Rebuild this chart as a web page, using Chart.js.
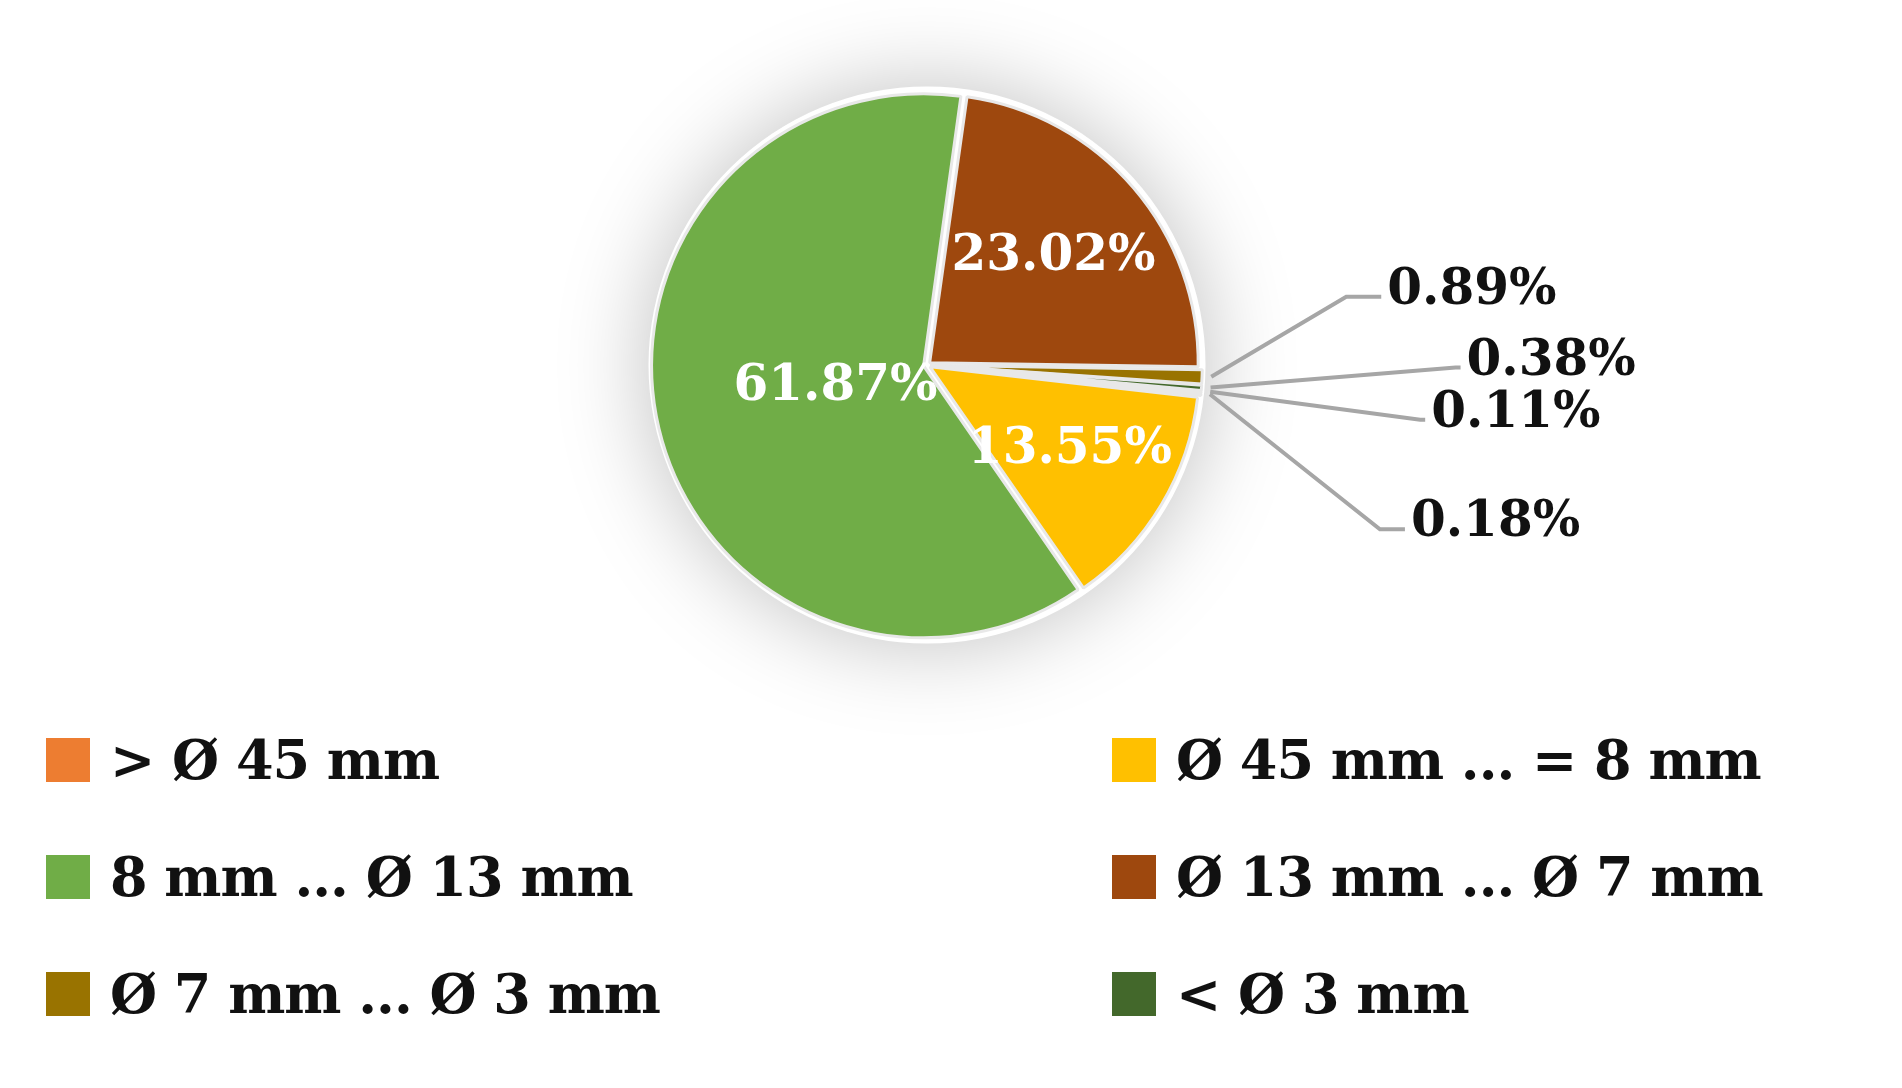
<!DOCTYPE html>
<html><head><meta charset="utf-8">
<script src="https://cdn.jsdelivr.net/npm/chart.js@4"></script>
<style>
body{margin:0;background:#fff;width:1902px;height:1088px;overflow:hidden;position:relative;font-family:"DejaVu Serif",serif}
#c{position:absolute;left:0;top:0}
.lg{position:absolute;display:flex;align-items:center;font-weight:bold;font-size:54px;color:#111;white-space:nowrap;letter-spacing:-1px}
.lg span{display:inline-block;width:44px;height:44px;margin-right:20px}
</style></head><body>
<canvas id="c" width="1902" height="1088"></canvas>
<div id="legend"></div>
<script>
const sliceLabels = ['Ø 13 mm ... Ø 7 mm','Ø 7 mm ... Ø 3 mm','< Ø 3 mm','> Ø 45 mm','> Ø 45 mm (b)','Ø 45 mm ... = 8 mm','8 mm ... Ø 13 mm'];
const sliceValues = [23.02, 0.89, 0.38, 0.11, 0.18, 13.55, 61.87];
const sliceColors = ['#9e480e','#997300','#43682b','#ed7d31','#f4b183','#ffc000','#70ad47'];
const legendLabels = ['> Ø 45 mm','Ø 45 mm ... = 8 mm','8 mm ... Ø 13 mm','Ø 13 mm ... Ø 7 mm','Ø 7 mm ... Ø 3 mm','< Ø 3 mm'];
const legendColors = ['#ed7d31','#ffc000','#70ad47','#9e480e','#997300','#43682b'];
// leader elbows relative to slice edge
const outsideLeaders = {1:[[135,-80],[170,-80]],2:[[245,-20],[250,-20]],3:[[210,28],[215,28]],4:[[170,135],[195,135]]};

const legendEl = document.getElementById('legend');
legendLabels.forEach((l,i)=>{
  const d=document.createElement('div');d.className='lg';
  d.style.left=(i%2?1112:46)+'px';d.style.top=(728+Math.floor(i/2)*117)+'px';
  d.innerHTML=`<span style="background:${legendColors[i]}"></span>`;
  d.appendChild(document.createTextNode(l));
  legendEl.appendChild(d);
});

const glow = {id:'glow',beforeDatasetsDraw(chart){
  const a=chart.getDatasetMeta(0).data[0];const ctx=chart.ctx;
  ctx.save();ctx.shadowColor='rgba(0,0,0,0.25)';ctx.shadowBlur=90;
  ctx.fillStyle='#fff';ctx.beginPath();ctx.arc(a.x,a.y,a.outerRadius+10,0,Math.PI*2);ctx.fill();ctx.restore();
}};
const labels = {id:'labels',afterDatasetsDraw(chart){
  const ctx=chart.ctx;const meta=chart.getDatasetMeta(0);
  ctx.save();ctx.font='bold 50px "DejaVu Serif", serif';ctx.textBaseline='middle';
  meta.data.forEach((arc,i)=>{
    const v=sliceValues[i].toFixed(2)+'%';
    const mid=(arc.startAngle+arc.endAngle)/2;
    if(outsideLeaders[i]){
      const r=arc.outerRadius+4;
      const sx=arc.x+Math.cos(mid)*r+12, sy=arc.y+Math.sin(mid)*r;
      const [e,f]=outsideLeaders[i];
      ctx.strokeStyle='#a6a6a6';ctx.lineWidth=4;ctx.beginPath();
      ctx.moveTo(sx,sy);ctx.lineTo(sx+e[0],sy+e[1]);ctx.lineTo(sx+f[0],sy+f[1]);ctx.stroke();
      ctx.fillStyle='#111';ctx.textAlign='left';ctx.fillText(v,sx+f[0]+6,sy+f[1]-6);
    } else {
      const k=i===6?0.35:0.62;
      const r=arc.outerRadius*k;
      ctx.fillStyle='#fff';ctx.textAlign='center';
      ctx.fillText(v,arc.x+Math.cos(mid)*r,arc.y+Math.sin(mid)*r);
    }
  });
  ctx.restore();
}};

new Chart(document.getElementById('c'),{
  type:'pie',
  data:{labels:sliceLabels,datasets:[{data:sliceValues,backgroundColor:sliceColors,borderColor:'#e8e8e8',borderWidth:3,offset:14}]},
  options:{responsive:false,animation:false,rotation:8,
    layout:{padding:{left:650,right:698,top:88,bottom:446}},
    plugins:{legend:{display:false},tooltip:{enabled:false}}},
  plugins:[glow,labels]
});
</script>
</body></html>
